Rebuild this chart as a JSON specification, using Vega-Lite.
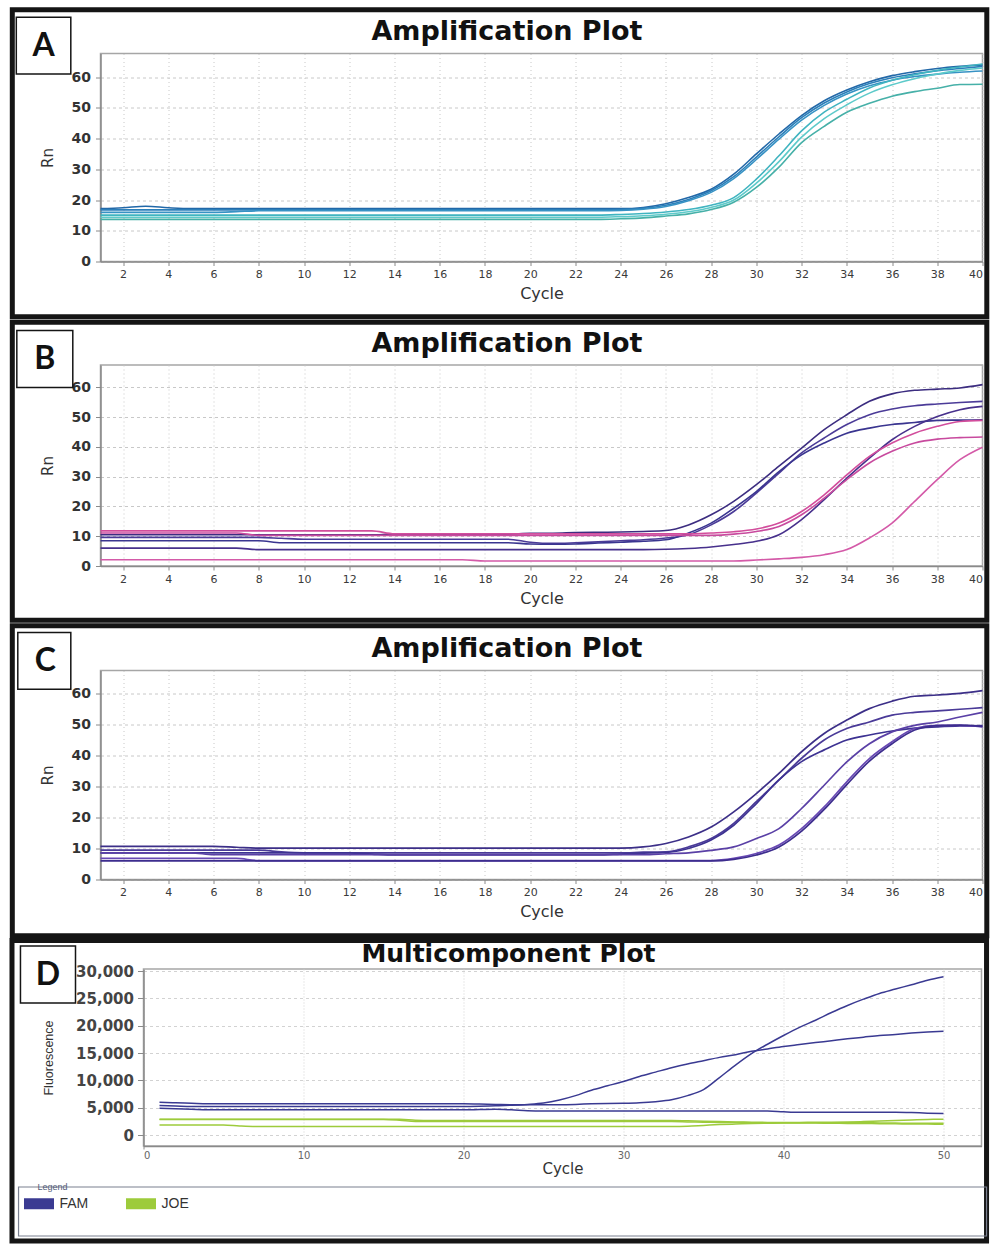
{
"$schema": "https://vega.github.io/schema/vega-lite/v6.json",
"background": "white",
"padding": {"left": 7.5, "top": 5.5, "right": 0, "bottom": 0},
"columns": 1,
"align": "none",
"bounds": "full",
"spacing": -2.5,
"resolve": {"scale": {"color": "independent"}},
"config": {
  "view": {"stroke": "#a6a6a6", "strokeWidth": 1.5},
  "axis": {"domainColor": "#8a8a8a", "domainWidth": 1.5, "tickColor": "#8a8a8a", "gridColor": "#c8c8c8", "gridWidth": 1, "labelFont": "DejaVu Sans", "titleFont": "DejaVu Sans", "titleFontWeight": "normal", "labelColor": "#333333", "titleColor": "#333333"},
  "axisX": {"gridDash": [1, 3]},
  "axisY": {"gridDash": [3, 3]}
},
"datasets": {
"A": [
{"c":1,"a1":17.2,"a2":16.8,"a3":16.0,"a4":15.1,"a5":14.4,"a6":13.7},
{"c":2,"a1":17.5,"a2":16.8,"a3":16.0,"a4":15.1,"a5":14.4,"a6":13.7},
{"c":3,"a1":18.0,"a2":16.8,"a3":16.0,"a4":15.1,"a5":14.4,"a6":13.7},
{"c":4,"a1":17.5,"a2":16.8,"a3":16.0,"a4":15.1,"a5":14.4,"a6":13.7},
{"c":5,"a1":17.2,"a2":16.8,"a3":16.0,"a4":15.1,"a5":14.4,"a6":13.7},
{"c":6,"a1":17.2,"a2":16.8,"a3":16.0,"a4":15.1,"a5":14.4,"a6":13.7},
{"c":7,"a1":17.2,"a2":16.8,"a3":16.2,"a4":15.1,"a5":14.4,"a6":13.7},
{"c":8,"a1":17.2,"a2":16.8,"a3":16.5,"a4":15.1,"a5":14.4,"a6":13.7},
{"c":9,"a1":17.2,"a2":16.8,"a3":16.5,"a4":15.1,"a5":14.4,"a6":13.7},
{"c":10,"a1":17.2,"a2":16.8,"a3":16.5,"a4":15.1,"a5":14.4,"a6":13.7},
{"c":11,"a1":17.2,"a2":16.8,"a3":16.5,"a4":15.1,"a5":14.4,"a6":13.7},
{"c":12,"a1":17.2,"a2":16.8,"a3":16.5,"a4":15.1,"a5":14.4,"a6":13.7},
{"c":13,"a1":17.2,"a2":16.8,"a3":16.5,"a4":15.1,"a5":14.4,"a6":13.7},
{"c":14,"a1":17.2,"a2":16.8,"a3":16.5,"a4":15.1,"a5":14.4,"a6":13.7},
{"c":15,"a1":17.2,"a2":16.8,"a3":16.5,"a4":15.1,"a5":14.4,"a6":13.7},
{"c":16,"a1":17.2,"a2":16.8,"a3":16.5,"a4":15.1,"a5":14.4,"a6":13.7},
{"c":17,"a1":17.2,"a2":16.8,"a3":16.5,"a4":15.1,"a5":14.4,"a6":13.7},
{"c":18,"a1":17.2,"a2":16.8,"a3":16.5,"a4":15.1,"a5":14.4,"a6":13.7},
{"c":19,"a1":17.2,"a2":16.8,"a3":16.5,"a4":15.1,"a5":14.4,"a6":13.7},
{"c":20,"a1":17.2,"a2":16.8,"a3":16.5,"a4":15.1,"a5":14.4,"a6":13.7},
{"c":21,"a1":17.2,"a2":16.8,"a3":16.5,"a4":15.1,"a5":14.4,"a6":13.7},
{"c":22,"a1":17.2,"a2":16.8,"a3":16.5,"a4":15.1,"a5":14.4,"a6":13.7},
{"c":23,"a1":17.2,"a2":16.8,"a3":16.5,"a4":15.1,"a5":14.4,"a6":13.7},
{"c":24,"a1":17.2,"a2":16.9,"a3":16.6,"a4":15.3,"a5":14.6,"a6":13.9},
{"c":25,"a1":17.6,"a2":17.3,"a3":17.0,"a4":15.6,"a5":14.9,"a6":14.2},
{"c":26,"a1":18.8,"a2":18.3,"a3":17.9,"a4":16.1,"a5":15.4,"a6":14.8},
{"c":27,"a1":20.8,"a2":20.2,"a3":19.8,"a4":16.9,"a5":16.2,"a6":15.5},
{"c":28,"a1":23.5,"a2":23.0,"a3":22.5,"a4":18.3,"a5":17.6,"a6":16.9},
{"c":29,"a1":28.4,"a2":27.6,"a3":27.0,"a4":20.8,"a5":20.0,"a6":19.3},
{"c":30,"a1":35.0,"a2":34.0,"a3":33.2,"a4":26.8,"a5":25.5,"a6":24.1},
{"c":31,"a1":41.5,"a2":40.6,"a3":39.8,"a4":34.4,"a5":32.5,"a6":30.7},
{"c":32,"a1":47.5,"a2":46.8,"a3":46.0,"a4":42.5,"a5":40.5,"a6":38.7},
{"c":33,"a1":52.3,"a2":51.6,"a3":50.8,"a4":48.6,"a5":46.5,"a6":44.0},
{"c":34,"a1":55.8,"a2":55.2,"a3":54.5,"a4":52.8,"a5":51.0,"a6":48.6},
{"c":35,"a1":58.5,"a2":57.9,"a3":57.2,"a4":56.5,"a5":54.8,"a6":51.5},
{"c":36,"a1":60.5,"a2":59.8,"a3":59.0,"a4":59.0,"a5":57.5,"a6":53.8},
{"c":37,"a1":61.8,"a2":61.1,"a3":60.2,"a4":60.8,"a5":59.5,"a6":55.3},
{"c":38,"a1":62.8,"a2":62.1,"a3":61.0,"a4":62.2,"a5":61.0,"a6":56.4},
{"c":39,"a1":63.5,"a2":62.8,"a3":61.6,"a4":63.3,"a5":62.2,"a6":57.6},
{"c":40,"a1":64.0,"a2":63.5,"a3":62.0,"a4":64.3,"a5":63.0,"a6":57.7}
],
"B": [
{"c":1,"b1":10.5,"b2":9.6,"b3":8.5,"b4":6.0,"b5":11.8,"b6":11.1,"b7":2.1},
{"c":2,"b1":10.5,"b2":9.6,"b3":8.5,"b4":6.0,"b5":11.8,"b6":11.1,"b7":2.1},
{"c":3,"b1":10.5,"b2":9.6,"b3":8.5,"b4":6.0,"b5":11.8,"b6":11.1,"b7":2.1},
{"c":4,"b1":10.5,"b2":9.6,"b3":8.5,"b4":6.0,"b5":11.8,"b6":11.1,"b7":2.1},
{"c":5,"b1":10.5,"b2":9.6,"b3":8.5,"b4":6.0,"b5":11.8,"b6":11.1,"b7":2.1},
{"c":6,"b1":10.5,"b2":9.6,"b3":8.5,"b4":6.0,"b5":11.8,"b6":11.1,"b7":2.1},
{"c":7,"b1":10.5,"b2":9.6,"b3":8.5,"b4":6.0,"b5":11.8,"b6":11.1,"b7":2.1},
{"c":8,"b1":10.5,"b2":9.6,"b3":8.5,"b4":5.5,"b5":11.8,"b6":10.3,"b7":2.1},
{"c":9,"b1":10.5,"b2":9.3,"b3":7.8,"b4":5.5,"b5":11.8,"b6":10.3,"b7":2.1},
{"c":10,"b1":10.5,"b2":9.0,"b3":7.8,"b4":5.5,"b5":11.8,"b6":10.3,"b7":2.1},
{"c":11,"b1":10.5,"b2":9.0,"b3":7.8,"b4":5.5,"b5":11.8,"b6":10.3,"b7":2.1},
{"c":12,"b1":10.5,"b2":9.0,"b3":7.8,"b4":5.5,"b5":11.8,"b6":10.3,"b7":2.1},
{"c":13,"b1":10.5,"b2":9.0,"b3":7.8,"b4":5.5,"b5":11.8,"b6":10.3,"b7":2.1},
{"c":14,"b1":10.7,"b2":9.0,"b3":7.8,"b4":5.5,"b5":10.8,"b6":10.3,"b7":2.1},
{"c":15,"b1":10.7,"b2":9.0,"b3":7.8,"b4":5.5,"b5":10.8,"b6":10.3,"b7":2.1},
{"c":16,"b1":10.7,"b2":9.0,"b3":7.8,"b4":5.5,"b5":10.8,"b6":10.3,"b7":2.1},
{"c":17,"b1":10.7,"b2":9.0,"b3":7.8,"b4":5.5,"b5":10.8,"b6":10.3,"b7":2.1},
{"c":18,"b1":10.7,"b2":9.0,"b3":7.8,"b4":5.5,"b5":10.8,"b6":10.3,"b7":1.7},
{"c":19,"b1":10.7,"b2":9.0,"b3":7.8,"b4":5.5,"b5":10.8,"b6":10.3,"b7":1.7},
{"c":20,"b1":11.0,"b2":8.0,"b3":7.4,"b4":5.5,"b5":10.8,"b6":10.3,"b7":1.7},
{"c":21,"b1":11.0,"b2":7.6,"b3":7.3,"b4":5.5,"b5":10.8,"b6":10.3,"b7":1.7},
{"c":22,"b1":11.2,"b2":7.8,"b3":7.4,"b4":5.5,"b5":10.8,"b6":10.3,"b7":1.7},
{"c":23,"b1":11.3,"b2":8.1,"b3":7.7,"b4":5.5,"b5":10.8,"b6":10.3,"b7":1.7},
{"c":24,"b1":11.4,"b2":8.5,"b3":8.0,"b4":5.5,"b5":10.8,"b6":10.3,"b7":1.7},
{"c":25,"b1":11.6,"b2":8.8,"b3":8.3,"b4":5.5,"b5":10.8,"b6":10.3,"b7":1.7},
{"c":26,"b1":11.9,"b2":9.4,"b3":8.8,"b4":5.6,"b5":10.8,"b6":10.3,"b7":1.7},
{"c":27,"b1":13.8,"b2":10.5,"b3":11.1,"b4":5.9,"b5":10.8,"b6":10.3,"b7":1.7},
{"c":28,"b1":17.2,"b2":13.8,"b3":14.4,"b4":6.4,"b5":11.1,"b6":10.3,"b7":1.7},
{"c":29,"b1":21.7,"b2":18.3,"b3":19.4,"b4":7.2,"b5":11.5,"b6":10.7,"b7":1.7},
{"c":30,"b1":27.3,"b2":24.5,"b3":25.0,"b4":8.3,"b5":12.4,"b6":11.6,"b7":2.0},
{"c":31,"b1":33.5,"b2":31.2,"b3":31.7,"b4":10.5,"b5":14.4,"b6":13.3,"b7":2.4},
{"c":32,"b1":39.6,"b2":38.0,"b3":37.3,"b4":15.6,"b5":18.3,"b6":17.2,"b7":2.9},
{"c":33,"b1":45.8,"b2":43.0,"b3":41.3,"b4":22.3,"b5":23.9,"b6":22.8,"b7":3.8},
{"c":34,"b1":50.8,"b2":47.5,"b3":44.6,"b4":29.5,"b5":30.6,"b6":29.0,"b7":5.5},
{"c":35,"b1":55.3,"b2":50.8,"b3":46.3,"b4":36.2,"b5":36.8,"b6":34.6,"b7":9.4},
{"c":36,"b1":57.8,"b2":52.7,"b3":47.5,"b4":42.4,"b5":41.3,"b6":38.5,"b7":14.4},
{"c":37,"b1":59.0,"b2":53.8,"b3":48.2,"b4":46.9,"b5":44.6,"b6":41.3,"b7":21.7},
{"c":38,"b1":59.4,"b2":54.4,"b3":48.9,"b4":50.2,"b5":46.9,"b6":42.6,"b7":29.0},
{"c":39,"b1":59.8,"b2":54.9,"b3":49.0,"b4":52.5,"b5":48.5,"b6":43.1,"b7":35.7},
{"c":40,"b1":60.9,"b2":55.3,"b3":49.1,"b4":53.6,"b5":48.9,"b6":43.3,"b7":39.9}
],
"C": [
{"c":1,"q1":10.7,"q2":9.5,"q3":8.6,"q4":8.6,"q5":6.8,"q6":6.0},
{"c":2,"q1":10.7,"q2":9.5,"q3":8.6,"q4":8.6,"q5":6.8,"q6":6.0},
{"c":3,"q1":10.7,"q2":9.5,"q3":8.6,"q4":8.6,"q5":6.8,"q6":6.0},
{"c":4,"q1":10.7,"q2":9.5,"q3":8.6,"q4":8.6,"q5":6.8,"q6":6.0},
{"c":5,"q1":10.7,"q2":9.5,"q3":8.6,"q4":8.6,"q5":6.8,"q6":6.0},
{"c":6,"q1":10.7,"q2":9.5,"q3":8.6,"q4":8.0,"q5":6.8,"q6":6.0},
{"c":7,"q1":10.4,"q2":9.5,"q3":8.6,"q4":8.0,"q5":6.8,"q6":6.0},
{"c":8,"q1":10.1,"q2":9.5,"q3":8.6,"q4":8.0,"q5":6.1,"q6":6.0},
{"c":9,"q1":10.1,"q2":8.9,"q3":8.6,"q4":8.0,"q5":6.1,"q6":6.0},
{"c":10,"q1":10.1,"q2":8.6,"q3":8.6,"q4":8.0,"q5":6.1,"q6":6.0},
{"c":11,"q1":10.1,"q2":8.6,"q3":8.6,"q4":8.0,"q5":6.1,"q6":6.0},
{"c":12,"q1":10.1,"q2":8.6,"q3":8.6,"q4":8.0,"q5":6.1,"q6":6.0},
{"c":13,"q1":10.1,"q2":8.6,"q3":8.2,"q4":8.0,"q5":6.1,"q6":6.0},
{"c":14,"q1":10.1,"q2":8.6,"q3":7.9,"q4":8.0,"q5":6.1,"q6":6.0},
{"c":15,"q1":10.1,"q2":8.6,"q3":7.9,"q4":8.0,"q5":6.1,"q6":6.0},
{"c":16,"q1":10.1,"q2":8.6,"q3":7.9,"q4":8.0,"q5":6.1,"q6":6.0},
{"c":17,"q1":10.1,"q2":8.6,"q3":7.9,"q4":8.0,"q5":6.1,"q6":6.0},
{"c":18,"q1":10.1,"q2":8.6,"q3":7.9,"q4":8.0,"q5":6.1,"q6":6.0},
{"c":19,"q1":10.1,"q2":8.6,"q3":7.9,"q4":8.0,"q5":6.1,"q6":6.0},
{"c":20,"q1":10.1,"q2":8.6,"q3":7.9,"q4":8.0,"q5":6.1,"q6":6.0},
{"c":21,"q1":10.1,"q2":8.6,"q3":7.9,"q4":8.0,"q5":6.1,"q6":6.0},
{"c":22,"q1":10.1,"q2":8.6,"q3":7.9,"q4":8.0,"q5":6.1,"q6":6.0},
{"c":23,"q1":10.1,"q2":8.6,"q3":7.9,"q4":8.0,"q5":6.1,"q6":6.0},
{"c":24,"q1":10.1,"q2":8.6,"q3":8.2,"q4":8.0,"q5":6.1,"q6":6.0},
{"c":25,"q1":10.5,"q2":8.8,"q3":8.5,"q4":8.0,"q5":6.1,"q6":6.0},
{"c":26,"q1":11.6,"q2":8.9,"q3":8.7,"q4":8.3,"q5":6.1,"q6":6.0},
{"c":27,"q1":13.7,"q2":10.5,"q3":10.0,"q4":8.6,"q5":6.1,"q6":6.0},
{"c":28,"q1":16.9,"q2":13.2,"q3":12.7,"q4":9.4,"q5":6.1,"q6":6.0},
{"c":29,"q1":21.8,"q2":18.1,"q3":17.5,"q4":10.5,"q5":6.8,"q6":6.5},
{"c":30,"q1":27.7,"q2":25.1,"q3":24.5,"q4":13.2,"q5":8.4,"q6":7.9},
{"c":31,"q1":34.2,"q2":32.1,"q3":32.1,"q4":16.4,"q5":11.1,"q6":10.5},
{"c":32,"q1":41.2,"q2":39.1,"q3":38.0,"q4":22.9,"q5":16.4,"q6":15.6},
{"c":33,"q1":47.1,"q2":45.0,"q3":41.8,"q4":30.4,"q5":23.4,"q6":22.6},
{"c":34,"q1":51.4,"q2":48.7,"q3":45.0,"q4":37.9,"q5":31.5,"q6":30.6},
{"c":35,"q1":55.1,"q2":50.8,"q3":46.6,"q4":43.8,"q5":39.0,"q6":38.2},
{"c":36,"q1":57.5,"q2":53.0,"q3":47.9,"q4":47.6,"q5":44.4,"q6":43.8},
{"c":37,"q1":59.1,"q2":53.9,"q3":48.8,"q4":49.7,"q5":48.7,"q6":48.2},
{"c":38,"q1":59.5,"q2":54.4,"q3":49.2,"q4":50.8,"q5":49.7,"q6":49.6},
{"c":39,"q1":60.0,"q2":54.9,"q3":49.5,"q4":52.4,"q5":49.7,"q6":49.8},
{"c":40,"q1":60.9,"q2":55.4,"q3":49.6,"q4":53.9,"q5":49.2,"q6":49.4}
],
"D": [
{"c":1,"f1":5980,"f2":5400,"f3":4900,"j1":2870,"j2":2850,"j3":1830},
{"c":2,"f1":5900,"f2":5300,"f3":4800,"j1":2870,"j2":2850,"j3":1830},
{"c":3,"f1":5800,"f2":5200,"f3":4700,"j1":2870,"j2":2850,"j3":1830},
{"c":4,"f1":5700,"f2":5200,"f3":4600,"j1":2870,"j2":2850,"j3":1830},
{"c":5,"f1":5700,"f2":5200,"f3":4600,"j1":2870,"j2":2850,"j3":1830},
{"c":6,"f1":5700,"f2":5200,"f3":4600,"j1":2870,"j2":2850,"j3":1650},
{"c":7,"f1":5700,"f2":5200,"f3":4600,"j1":2870,"j2":2850,"j3":1550},
{"c":8,"f1":5700,"f2":5200,"f3":4600,"j1":2870,"j2":2850,"j3":1550},
{"c":9,"f1":5700,"f2":5200,"f3":4600,"j1":2870,"j2":2850,"j3":1550},
{"c":10,"f1":5700,"f2":5200,"f3":4600,"j1":2870,"j2":2850,"j3":1550},
{"c":11,"f1":5700,"f2":5200,"f3":4600,"j1":2870,"j2":2850,"j3":1550},
{"c":12,"f1":5700,"f2":5200,"f3":4600,"j1":2870,"j2":2850,"j3":1550},
{"c":13,"f1":5700,"f2":5200,"f3":4600,"j1":2870,"j2":2850,"j3":1550},
{"c":14,"f1":5700,"f2":5200,"f3":4600,"j1":2870,"j2":2850,"j3":1550},
{"c":15,"f1":5700,"f2":5200,"f3":4600,"j1":2870,"j2":2850,"j3":1550},
{"c":16,"f1":5700,"f2":5200,"f3":4600,"j1":2870,"j2":2700,"j3":1550},
{"c":17,"f1":5700,"f2":5200,"f3":4600,"j1":2700,"j2":2450,"j3":1550},
{"c":18,"f1":5700,"f2":5200,"f3":4600,"j1":2650,"j2":2450,"j3":1550},
{"c":19,"f1":5700,"f2":5200,"f3":4600,"j1":2650,"j2":2450,"j3":1550},
{"c":20,"f1":5700,"f2":5200,"f3":4600,"j1":2650,"j2":2450,"j3":1550},
{"c":21,"f1":5650,"f2":5250,"f3":4650,"j1":2650,"j2":2450,"j3":1550},
{"c":22,"f1":5600,"f2":5350,"f3":4700,"j1":2650,"j2":2450,"j3":1550},
{"c":23,"f1":5550,"f2":5450,"f3":4600,"j1":2650,"j2":2450,"j3":1550},
{"c":24,"f1":5550,"f2":5600,"f3":4450,"j1":2650,"j2":2450,"j3":1550},
{"c":25,"f1":5550,"f2":5850,"f3":4400,"j1":2650,"j2":2450,"j3":1550},
{"c":26,"f1":5550,"f2":6400,"f3":4400,"j1":2650,"j2":2450,"j3":1550},
{"c":27,"f1":5600,"f2":7200,"f3":4400,"j1":2650,"j2":2450,"j3":1550},
{"c":28,"f1":5700,"f2":8200,"f3":4400,"j1":2650,"j2":2450,"j3":1550},
{"c":29,"f1":5750,"f2":9000,"f3":4400,"j1":2650,"j2":2450,"j3":1550},
{"c":30,"f1":5800,"f2":9800,"f3":4400,"j1":2650,"j2":2450,"j3":1550},
{"c":31,"f1":5900,"f2":10700,"f3":4400,"j1":2650,"j2":2450,"j3":1550},
{"c":32,"f1":6100,"f2":11500,"f3":4400,"j1":2650,"j2":2450,"j3":1550},
{"c":33,"f1":6450,"f2":12300,"f3":4400,"j1":2650,"j2":2450,"j3":1550},
{"c":34,"f1":7200,"f2":13000,"f3":4400,"j1":2600,"j2":2400,"j3":1600},
{"c":35,"f1":8300,"f2":13600,"f3":4400,"j1":2500,"j2":2350,"j3":1750},
{"c":36,"f1":10500,"f2":14200,"f3":4400,"j1":2450,"j2":2300,"j3":1900},
{"c":37,"f1":12800,"f2":14700,"f3":4400,"j1":2400,"j2":2280,"j3":2000},
{"c":38,"f1":14900,"f2":15300,"f3":4400,"j1":2350,"j2":2260,"j3":2100},
{"c":39,"f1":16600,"f2":15750,"f3":4400,"j1":2300,"j2":2250,"j3":2150},
{"c":40,"f1":18200,"f2":16200,"f3":4250,"j1":2280,"j2":2250,"j3":2200},
{"c":41,"f1":19700,"f2":16550,"f3":4150,"j1":2300,"j2":2250,"j3":2200},
{"c":42,"f1":21000,"f2":16900,"f3":4150,"j1":2320,"j2":2250,"j3":2180},
{"c":43,"f1":22400,"f2":17250,"f3":4150,"j1":2350,"j2":2250,"j3":2150},
{"c":44,"f1":23700,"f2":17600,"f3":4150,"j1":2380,"j2":2250,"j3":2120},
{"c":45,"f1":24850,"f2":17900,"f3":4150,"j1":2450,"j2":2250,"j3":2100},
{"c":46,"f1":25900,"f2":18200,"f3":4150,"j1":2550,"j2":2200,"j3":2080},
{"c":47,"f1":26700,"f2":18400,"f3":4150,"j1":2650,"j2":2180,"j3":2050},
{"c":48,"f1":27500,"f2":18650,"f3":4100,"j1":2750,"j2":2150,"j3":2000},
{"c":49,"f1":28300,"f2":18850,"f3":4000,"j1":2850,"j2":2150,"j3":1990},
{"c":50,"f1":28950,"f2":19000,"f3":3950,"j1":2870,"j2":2150,"j3":1980}
]
},
"concat": [
{"hconcat": [
{"width": 1, "height": 1, "view": {"stroke": null}, "data": {"values": [{}]}, "mark": {"type": "point", "opacity": 0, "size": 0, "strokeWidth": 0}, "encoding": {}},
{
  "width": 882, "height": 208,
  "resolve": {"scale": {"x": "independent", "y": "independent"}},
  "layer": [
    {
      "data": {"name": "A"},
      "transform": [{"fold": ["a1","a2","a3","a4","a5","a6"], "as": ["w","v"]}],
      "mark": {"type": "line", "interpolate": "monotone", "strokeWidth": 1.6},
      "encoding": {
        "x": {"field": "c", "type": "quantitative", "scale": {"domain": [1,40], "nice": false, "zero": false},
              "axis": {"values": [2,4,6,8,10,12,14,16,18,20,22,24,26,28,30,32,34,36,38,40], "title": "Cycle", "labelFontSize": 11, "labelColor": "#3a3a3a", "tickSize": 4, "labelPadding": 3, "titleFontSize": 16, "titlePadding": 6}},
        "y": {"field": "v", "type": "quantitative", "scale": {"domain": [0,67.7], "nice": false, "zero": false},
              "axis": {"values": [0,10,20,30,40,50,60], "title": "Rn", "labelFontSize": 14, "labelFontWeight": "bold", "tickSize": 5, "labelPadding": 5, "titleFontSize": 15, "titlePadding": 16}},
        "color": {"field": "w", "type": "nominal", "scale": {"domain": ["a1","a2","a3","a4","a5","a6"], "range": ["#2268a8","#2b7fba","#3792c4","#40b4c0","#5dcaca","#46b0a8"]}, "legend": null}
      }
    },
    {"data": {"values": [{}]}, "mark": {"type": "rect", "fill": "transparent", "stroke": "#151515", "strokeWidth": 5},
     "encoding": {"x": {"datum": -2.9, "scale": {"domain": [1,40], "nice": false, "zero": false}, "axis": null}, "x2": {"datum": 40.19}, "y": {"datum": 81.96, "scale": {"domain": [0,67.7], "nice": false, "zero": false}, "axis": null}, "y2": {"datum": -17.97}}},
    {"data": {"values": [{}]}, "mark": {"type": "rect", "fill": "white", "stroke": "#151515", "strokeWidth": 1.5},
     "encoding": {"x": {"datum": -2.723, "scale": {"domain": [1,40], "nice": false, "zero": false}, "axis": null}, "x2": {"datum": -0.313}, "y": {"datum": 79.5, "scale": {"domain": [0,67.7], "nice": false, "zero": false}, "axis": null}, "y2": {"datum": 61.0}}},
    {"data": {"values": [{}]}, "mark": {"type": "text", "text": "A", "font": "Lato", "fontWeight": "bold", "fontSize": 32, "align": "center", "baseline": "middle", "color": "#111111"},
     "encoding": {"x": {"datum": -1.518, "scale": {"domain": [1,40], "nice": false, "zero": false}, "axis": null}, "y": {"datum": 70.25, "scale": {"domain": [0,67.7], "nice": false, "zero": false}, "axis": null}}},
    {"data": {"values": [{}]}, "mark": {"type": "text", "text": "Amplification Plot", "font": "DejaVu Sans", "fontWeight": "bold", "fontSize": 27, "align": "center", "baseline": "alphabetic", "color": "#111111"},
     "encoding": {"x": {"datum": 18.97, "scale": {"domain": [1,40], "nice": false, "zero": false}, "axis": null}, "y": {"datum": 72.1, "scale": {"domain": [0,67.7], "nice": false, "zero": false}, "axis": null}}}
  ]
}], "spacing": 0},
{"hconcat": [
{"width": 1, "height": 1, "view": {"stroke": null}, "data": {"values": [{}]}, "mark": {"type": "point", "opacity": 0, "size": 0, "strokeWidth": 0}, "encoding": {}},
{
  "width": 882, "height": 201,
  "resolve": {"scale": {"x": "independent", "y": "independent"}},
  "layer": [
    {
      "data": {"name": "B"},
      "transform": [{"fold": ["b1","b2","b3","b4","b5","b6","b7"], "as": ["w","v"]}],
      "mark": {"type": "line", "interpolate": "monotone", "strokeWidth": 1.6},
      "encoding": {
        "x": {"field": "c", "type": "quantitative", "scale": {"domain": [1,40], "nice": false, "zero": false},
              "axis": {"values": [2,4,6,8,10,12,14,16,18,20,22,24,26,28,30,32,34,36,38,40], "title": "Cycle", "labelFontSize": 11, "labelColor": "#3a3a3a", "tickSize": 4, "labelPadding": 3, "titleFontSize": 16, "titlePadding": 6}},
        "y": {"field": "v", "type": "quantitative", "scale": {"domain": [0,67.5], "nice": false, "zero": false},
              "axis": {"values": [0,10,20,30,40,50,60], "title": "Rn", "labelFontSize": 14, "labelFontWeight": "bold", "tickSize": 5, "labelPadding": 5, "titleFontSize": 15, "titlePadding": 16}},
        "color": {"field": "w", "type": "nominal", "scale": {"domain": ["b1","b2","b3","b4","b5","b6","b7"], "range": ["#3c2d80","#4b3b98","#3a3590","#47308c","#d24d9c","#c84a9e","#d45aa8"]}, "legend": null}
      }
    },
    {"data": {"values": [{}]}, "mark": {"type": "rect", "fill": "transparent", "stroke": "#151515", "strokeWidth": 5},
     "encoding": {"x": {"datum": -2.9, "scale": {"domain": [1,40], "nice": false, "zero": false}, "axis": null}, "x2": {"datum": 40.19}, "y": {"datum": 81.87, "scale": {"domain": [0,67.5], "nice": false, "zero": false}, "axis": null}, "y2": {"datum": -18.2}}},
    {"data": {"values": [{}]}, "mark": {"type": "rect", "fill": "white", "stroke": "#151515", "strokeWidth": 1.5},
     "encoding": {"x": {"datum": -2.70, "scale": {"domain": [1,40], "nice": false, "zero": false}, "axis": null}, "x2": {"datum": -0.225}, "y": {"datum": 79.1, "scale": {"domain": [0,67.5], "nice": false, "zero": false}, "axis": null}, "y2": {"datum": 59.97}}},
    {"data": {"values": [{}]}, "mark": {"type": "text", "text": "B", "font": "Lato", "fontWeight": "bold", "fontSize": 32, "align": "center", "baseline": "middle", "color": "#111111"},
     "encoding": {"x": {"datum": -1.463, "scale": {"domain": [1,40], "nice": false, "zero": false}, "axis": null}, "y": {"datum": 69.6, "scale": {"domain": [0,67.5], "nice": false, "zero": false}, "axis": null}}},
    {"data": {"values": [{}]}, "mark": {"type": "text", "text": "Amplification Plot", "font": "DejaVu Sans", "fontWeight": "bold", "fontSize": 27, "align": "center", "baseline": "alphabetic", "color": "#111111"},
     "encoding": {"x": {"datum": 18.97, "scale": {"domain": [1,40], "nice": false, "zero": false}, "axis": null}, "y": {"datum": 71.86, "scale": {"domain": [0,67.5], "nice": false, "zero": false}, "axis": null}}}
  ]
}], "spacing": 0},
{"hconcat": [
{"width": 1, "height": 1, "view": {"stroke": null}, "data": {"values": [{}]}, "mark": {"type": "point", "opacity": 0, "size": 0, "strokeWidth": 0}, "encoding": {}},
{
  "width": 882, "height": 209,
  "resolve": {"scale": {"x": "independent", "y": "independent"}},
  "layer": [
    {
      "data": {"name": "C"},
      "transform": [{"fold": ["q1","q2","q3","q4","q5","q6"], "as": ["w","v"]}],
      "mark": {"type": "line", "interpolate": "monotone", "strokeWidth": 1.7},
      "encoding": {
        "x": {"field": "c", "type": "quantitative", "scale": {"domain": [1,40], "nice": false, "zero": false},
              "axis": {"values": [2,4,6,8,10,12,14,16,18,20,22,24,26,28,30,32,34,36,38,40], "title": "Cycle", "labelFontSize": 11, "labelColor": "#3a3a3a", "tickSize": 4, "labelPadding": 3, "titleFontSize": 16, "titlePadding": 6}},
        "y": {"field": "v", "type": "quantitative", "scale": {"domain": [0,67.4], "nice": false, "zero": false},
              "axis": {"values": [0,10,20,30,40,50,60], "title": "Rn", "labelFontSize": 14, "labelFontWeight": "bold", "tickSize": 5, "labelPadding": 5, "titleFontSize": 15, "titlePadding": 16}},
        "color": {"field": "w", "type": "nominal", "scale": {"domain": ["q1","q2","q3","q4","q5","q6"], "range": ["#3c2f88","#4a3a98","#3d3292","#5a40a6","#6848b4","#3d2d8e"]}, "legend": null}
      }
    },
    {"data": {"values": [{}]}, "mark": {"type": "rect", "fill": "transparent", "stroke": "#151515", "strokeWidth": 5},
     "encoding": {"x": {"datum": -2.9, "scale": {"domain": [1,40], "nice": false, "zero": false}, "axis": null}, "x2": {"datum": 40.19}, "y": {"datum": 81.85, "scale": {"domain": [0,67.4], "nice": false, "zero": false}, "axis": null}, "y2": {"datum": -18.12}}},
    {"data": {"values": [{}]}, "mark": {"type": "rect", "fill": "white", "stroke": "#151515", "strokeWidth": 1.5},
     "encoding": {"x": {"datum": -2.657, "scale": {"domain": [1,40], "nice": false, "zero": false}, "axis": null}, "x2": {"datum": -0.313}, "y": {"datum": 79.66, "scale": {"domain": [0,67.4], "nice": false, "zero": false}, "axis": null}, "y2": {"datum": 61.37}}},
    {"data": {"values": [{}]}, "mark": {"type": "text", "text": "C", "font": "Lato", "fontWeight": "bold", "fontSize": 32, "align": "center", "baseline": "middle", "color": "#111111"},
     "encoding": {"x": {"datum": -1.441, "scale": {"domain": [1,40], "nice": false, "zero": false}, "axis": null}, "y": {"datum": 70.5, "scale": {"domain": [0,67.4], "nice": false, "zero": false}, "axis": null}}},
    {"data": {"values": [{}]}, "mark": {"type": "text", "text": "Amplification Plot", "font": "DejaVu Sans", "fontWeight": "bold", "fontSize": 27, "align": "center", "baseline": "alphabetic", "color": "#111111"},
     "encoding": {"x": {"datum": 18.97, "scale": {"domain": [1,40], "nice": false, "zero": false}, "axis": null}, "y": {"datum": 71.8, "scale": {"domain": [0,67.4], "nice": false, "zero": false}, "axis": null}}}
  ]
}], "spacing": 0},
{"hconcat": [
{"width": 1, "height": 1, "view": {"stroke": null}, "data": {"values": [{}]}, "mark": {"type": "point", "opacity": 0, "size": 0, "strokeWidth": 0}, "encoding": {}},
{
  "width": 838, "height": 177,
  "resolve": {"scale": {"x": "independent", "y": "independent"}},
  "layer": [
    {
      "data": {"name": "D"},
      "transform": [{"fold": ["f1","f2","f3","j1","j2","j3"], "as": ["w","v"]}],
      "mark": {"type": "line", "interpolate": "monotone", "strokeWidth": 1.5},
      "encoding": {
        "x": {"field": "c", "type": "quantitative", "scale": {"domain": [0,52.375], "nice": false, "zero": false},
              "axis": {"values": [0,10,20,30,40,50], "title": "Cycle", "labelFontSize": 10, "labelColor": "#666666", "tickSize": 3, "labelPadding": 1, "titleFontSize": 15, "titlePadding": 1, "gridDash": [1,2], "gridColor": "#d2d2d2"}},
        "y": {"field": "v", "type": "quantitative", "scale": {"domain": [-2012,30366], "nice": false, "zero": false},
              "axis": {"values": [0,5000,10000,15000,20000,25000,30000], "format": ",.0f", "title": "Fluorescence", "labelFontSize": 15, "labelFontWeight": "bold", "labelColor": "#444444", "tickSize": 6, "labelPadding": 4, "titleFont": "Liberation Sans", "titleFontSize": 12.5, "titlePadding": 20, "gridDash": [3,3], "gridColor": "#d2d2d2"}},
        "color": {"field": "w", "type": "nominal", "scale": {"domain": ["f1","f2","f3","j1","j2","j3"], "range": ["#3a3a92","#3a3a92","#3a3a92","#9dcb3b","#9dcb3b","#9dcb3b"]},
                  "legend": {"orient": "none", "legendX": -125, "legendY": 214, "direction": "horizontal", "title": null, "values": ["f1","j1"], "labelExpr": "datum.label == 'f1' ? 'FAM' : 'JOE'", "symbolType": "stroke", "symbolSize": 900, "symbolStrokeWidth": 11, "labelFont": "Liberation Sans", "labelFontSize": 14, "labelColor": "#333333", "labelOffset": 0, "columnPadding": 15, "padding": 0}}
      }
    },
    {"data": {"values": [{}]}, "mark": {"type": "rect", "fill": "transparent", "stroke": "#151515", "strokeWidth": 5},
     "encoding": {"x": {"datum": -8.219, "scale": {"domain": [0,52.375], "nice": false, "zero": false}, "axis": null}, "x2": {"datum": 52.69}, "y": {"datum": 35580, "scale": {"domain": [-2012,30366], "nice": false, "zero": false}, "axis": null}, "y2": {"datum": -19390}}},
    {"data": {"values": [{}]}, "mark": {"type": "rect", "fill": "transparent", "stroke": "#7a8090", "strokeWidth": 1.2},
     "encoding": {"x": {"datum": -7.81, "scale": {"domain": [0,52.375], "nice": false, "zero": false}, "axis": null}, "x2": {"datum": 52.69}, "y": {"datum": -9512, "scale": {"domain": [-2012,30366], "nice": false, "zero": false}, "axis": null}, "y2": {"datum": -18476}}},
    {"data": {"values": [{}]}, "mark": {"type": "text", "text": "Legend", "font": "Liberation Sans", "fontSize": 9, "align": "left", "baseline": "middle", "color": "#55607a"},
     "encoding": {"x": {"datum": -6.63, "scale": {"domain": [0,52.375], "nice": false, "zero": false}, "axis": null}, "y": {"datum": -9512, "scale": {"domain": [-2012,30366], "nice": false, "zero": false}, "axis": null}}},
    {"data": {"values": [{}]}, "mark": {"type": "rect", "fill": "white", "stroke": "#151515", "strokeWidth": 1.5},
     "encoding": {"x": {"datum": -7.69, "scale": {"domain": [0,52.375], "nice": false, "zero": false}, "axis": null}, "x2": {"datum": -4.25}, "y": {"datum": 34571, "scale": {"domain": [-2012,30366], "nice": false, "zero": false}, "axis": null}, "y2": {"datum": 24145}}},
    {"data": {"values": [{}]}, "mark": {"type": "text", "text": "D", "font": "Lato", "fontWeight": "bold", "fontSize": 32, "align": "center", "baseline": "middle", "color": "#111111"},
     "encoding": {"x": {"datum": -5.97, "scale": {"domain": [0,52.375], "nice": false, "zero": false}, "axis": null}, "y": {"datum": 29358, "scale": {"domain": [-2012,30366], "nice": false, "zero": false}, "axis": null}}},
    {"data": {"values": [{}]}, "mark": {"type": "text", "text": "Multicomponent Plot", "font": "DejaVu Sans", "fontWeight": "bold", "fontSize": 25, "align": "center", "baseline": "alphabetic", "color": "#111111"},
     "encoding": {"x": {"datum": 22.81, "scale": {"domain": [0,52.375], "nice": false, "zero": false}, "axis": null}, "y": {"datum": 31645, "scale": {"domain": [-2012,30366], "nice": false, "zero": false}, "axis": null}}}
  ]
}], "spacing": 0, "resolve": {"scale": {"color": "independent"}}}
]
}
